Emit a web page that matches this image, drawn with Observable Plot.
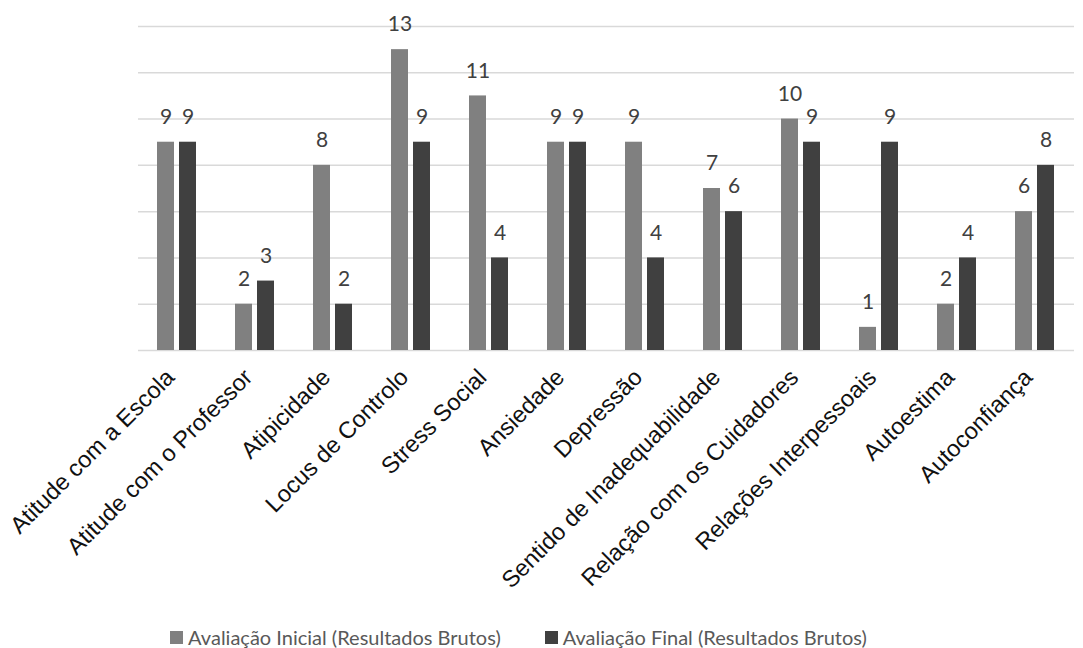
<!DOCTYPE html>
<html>
<head>
<meta charset="utf-8">
<script src="https://cdn.jsdelivr.net/npm/d3@7"></script>
<script src="https://cdn.jsdelivr.net/npm/@observablehq/plot@0.6"></script>
<style>
  body { margin: 0; background: #fff; }
  #legend { display: flex; justify-content: center; gap: 44px; font-family: Lato, sans-serif; font-size: 20px; color: #595959; line-height: 24px; height: 24px; padding-right: 46px; }
  #legend > div { display: flex; align-items: center; }
  #legend span.sw { display: inline-block; width: 13px; height: 13px; margin-right: 5px; }
</style>
</head>
<body>
<div id="chart"></div>
<div id="legend"></div>
<script>
const categories = ["Atitude com a Escola", "Atitude com o Professor", "Atipicidade", "Locus de Controlo", "Stress Social", "Ansiedade", "Depressão", "Sentido de Inadequabilidade", "Relação com os Cuidadores", "Relações Interpessoais", "Autoestima", "Autoconfiança"];
const inicial = [9, 2, 8, 13, 11, 9, 9, 7, 10, 1, 2, 6];
const final = [9, 3, 2, 9, 4, 9, 4, 6, 9, 9, 4, 8];
const series = ["Avaliação Inicial (Resultados Brutos)", "Avaliação Final (Resultados Brutos)"];
const colors = ["#808080", "#404040"];
const gridValues = [0, 2, 4, 6, 8, 10, 12, 14];

const data = categories.flatMap((c, i) => [
  {cat: c, serie: series[0], value: inicial[i]},
  {cat: c, serie: series[1], value: final[i]}
]);

const chart = Plot.plot({
  width: 1083,
  height: 625,
  marginTop: 26,
  marginBottom: 275,
  marginLeft: 134,
  marginRight: 6,
  fx: {domain: categories, padding: 0, label: null},
  x: {domain: series, axis: null, paddingInner: 0.217, paddingOuter: 0.817},
  y: {domain: [0, 14], axis: null},
  color: {domain: series, range: colors},
  marks: [
    Plot.ruleY(gridValues, {stroke: "#d9d9d9", strokeWidth: 1.5}),
    Plot.barY(data, {fx: "cat", x: "serie", y: "value", fill: "serie"}),
    Plot.text(data, {fx: "cat", x: "serie", y: "value", text: d => String(d.value), dy: -25, fontSize: 21, fill: "#404040", fontFamily: "Lato"}),
    Plot.axisFx({anchor: "bottom", tickRotate: -45, tickSize: 0, tickPadding: 23, dx: -7, fontSize: 23.5, fontFamily: "Liberation Sans", fill: "#111", label: null})
  ]
});
document.getElementById("chart").appendChild(chart);

const legend = document.getElementById("legend");
series.forEach((s, i) => {
  const item = document.createElement("div");
  const sw = document.createElement("span");
  sw.className = "sw";
  sw.style.background = colors[i];
  item.appendChild(sw);
  item.appendChild(document.createTextNode(s));
  legend.appendChild(item);
});
</script>
</body>
</html>
